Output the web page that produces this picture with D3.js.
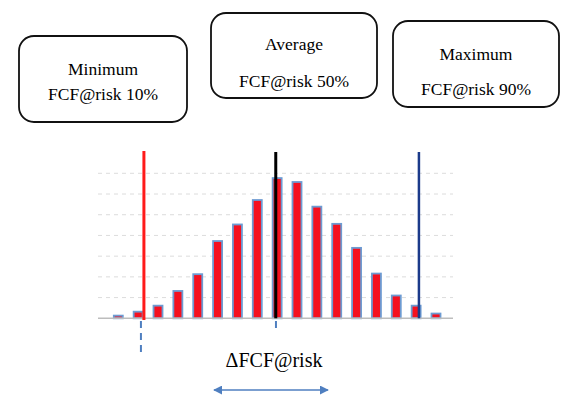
<html>
<head>
<script src="https://cdn.jsdelivr.net/npm/d3@7"></script>
</head>
<body style='margin: 0;padding: 0;background: white'>
<div id="chart"></div>
<script>

// histogram bins (frequency, in grid units)
var bins = d3.range(17)
var freq = [0.13, 0.32, 0.61, 1.32, 2.13, 3.73, 4.53, 5.71, 6.77, 6.58, 5.39, 4.56, 3.40, 2.16, 1.10, 0.61, 0.23]
var gridValues = [1, 2, 3, 4, 5, 6, 7]

// marker lines, positions in bin units
var markerNames = ['min', 'avg', 'max']
var markerPos = [1.29, 7.93, 15.14]
var markerColours = ['#ff1a1a', '#000000', '#1b3a8a']

var boxTitles = ['Minimum', 'Average', 'Maximum']
var boxLines = ['FCF@risk 10%', 'FCF@risk 50%', 'FCF@risk 90%']

var serif = "'Liberation Serif', 'DejaVu Serif', serif"

var svg = d3.select('#chart').append('svg')
  .attr('width', 575).attr('height', 399)

var x = d3.scaleLinear().domain([0, 16]).range([118.3, 436])
var y = d3.scaleLinear().domain([0, 7]).range([318.3, 173.3])
var barW = 9

// grid
svg.selectAll('.grid').data(gridValues).enter().append('line')
  .attr('x1', 98).attr('x2', 453)
  .attr('y1', d => y(d)).attr('y2', d => y(d))
  .style('stroke', '#dcdcdc').style('stroke-width', 1)
  .style('stroke-dasharray', '4,4')

// bars
svg.selectAll('.bar').data(bins).enter().append('rect')
  .attr('x', d => x(d) - barW / 2)
  .attr('y', d => y(freq[d]))
  .attr('width', barW)
  .attr('height', d => y(0) - y(freq[d]))
  .style('fill', '#f5101f')
  .style('stroke', '#6d9bd2')
  .style('stroke-width', 1.8)

// axis line
svg.append('line')
  .attr('x1', 98).attr('x2', 453).attr('y1', y(0)).attr('y2', y(0))
  .style('stroke', '#bdbdbd').style('stroke-width', 1.5)

// marker lines
svg.selectAll('.marker').data(markerNames).enter().append('line')
  .attr('x1', (d, i) => x(markerPos[i])).attr('x2', (d, i) => x(markerPos[i]))
  .attr('y1', (d, i) => i == 0 ? 151 : 152)
  .attr('y2', (d, i) => i == 0 ? 320 : y(0))
  .style('stroke', (d, i) => markerColours[i])
  .style('stroke-width', (d, i) => i == 2 ? 2.5 : 3)

// dashed ticks under the axis
svg.append('line')
  .attr('x1', x(1.14)).attr('x2', x(1.14)).attr('y1', 321).attr('y2', 355)
  .style('stroke', '#4f7fc0').style('stroke-width', 2)
  .style('stroke-dasharray', '7,5')
svg.append('line')
  .attr('x1', x(7.94)).attr('x2', x(7.94)).attr('y1', 321).attr('y2', 328)
  .style('stroke', '#4f7fc0').style('stroke-width', 2)

// label + arrow
svg.append('text')
  .text('\u0394FCF@risk')
  .attr('x', 274).attr('y', 367)
  .attr('text-anchor', 'middle')
  .style('font-family', serif).style('font-size', '20px')
  .style('fill', 'black')

var defs = svg.append('defs')
defs.append('marker').attr('id', 'ah').attr('viewBox', '0 0 10 10')
  .attr('refX', 9).attr('refY', 5).attr('markerWidth', 6).attr('markerHeight', 6)
  .attr('orient', 'auto-start-reverse')
  .append('path').attr('d', 'M0,0 L10,5 L0,10 z').style('fill', '#4f7fc0')

svg.append('line')
  .attr('x1', 214).attr('x2', 328).attr('y1', 390).attr('y2', 390)
  .style('stroke', '#4f7fc0').style('stroke-width', 1.5)
  .attr('marker-start', 'url(#ah)').attr('marker-end', 'url(#ah)')

// boxes
var boxX = [19, 211, 393]
var boxY = [36, 13, 21]
var boxW = [168, 166, 166]
var boxH = [86, 85, 86]
var titleY = [75, 50, 60]
var lineY = [100, 87, 95]

boxTitles.forEach((t, i) => {
  svg.append('rect')
    .attr('x', boxX[i]).attr('y', boxY[i])
    .attr('width', boxW[i]).attr('height', boxH[i])
    .attr('rx', 15).attr('ry', 15)
    .style('fill', 'white').style('stroke', '#111').style('stroke-width', 1.8)

  svg.append('text')
    .text(t)
    .attr('x', boxX[i] + boxW[i] / 2).attr('y', titleY[i])
    .attr('text-anchor', 'middle')
    .style('font-family', serif).style('font-size', '17.5px')
    .style('fill', 'black')

  svg.append('text')
    .text(boxLines[i])
    .attr('x', boxX[i] + boxW[i] / 2).attr('y', lineY[i])
    .attr('text-anchor', 'middle')
    .style('font-family', serif).style('font-size', '17.5px')
    .style('fill', 'black')
})

</script>
</body>
</html>
